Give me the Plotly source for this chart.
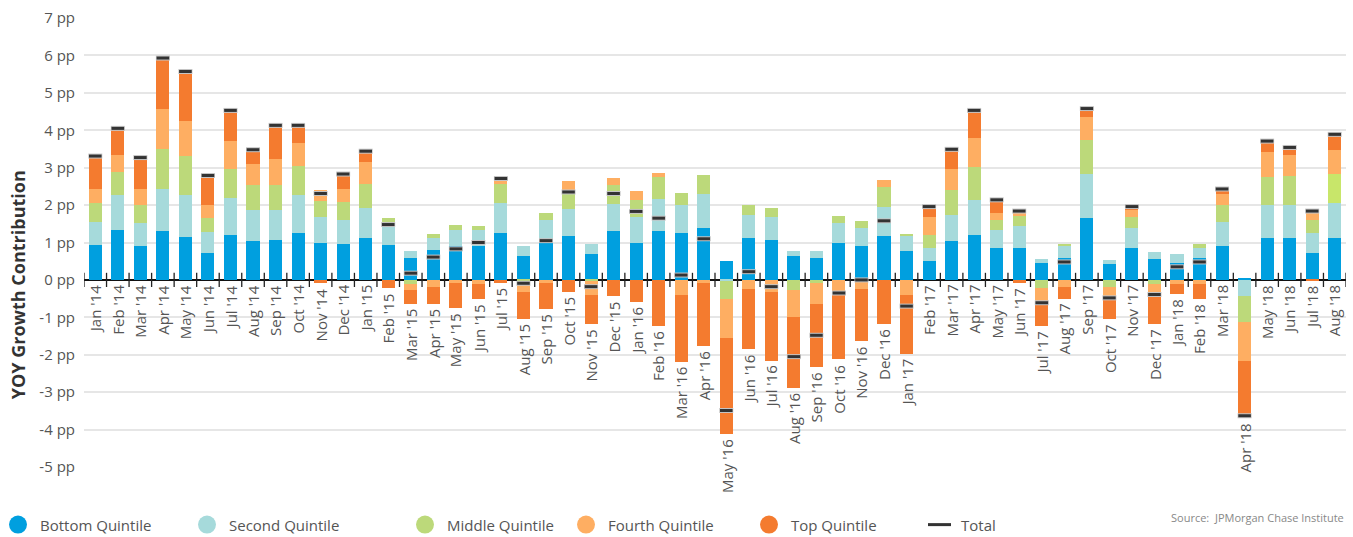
import plotly.graph_objects as go

months = ["Jan '14","Feb '14","Mar '14","Apr '14","May '14","Jun '14","Jul '14","Aug '14","Sep '14","Oct '14","Nov '14","Dec '14",
          "Jan '15","Feb '15","Mar '15","Apr '15","May '15","Jun '15","Jul '15","Aug '15","Sep '15","Oct '15","Nov '15","Dec '15",
          "Jan '16","Feb '16","Mar '16","Apr '16","May '16","Jun '16","Jul '16","Aug '16","Sep '16","Oct '16","Nov '16","Dec '16",
          "Jan '17","Feb '17","Mar '17","Apr '17","May '17","Jun '17","Jul '17","Aug '17","Sep '17","Oct '17","Nov '17","Dec '17",
          "Jan '18","Feb '18","Mar '18","Apr '18","May '18","Jun '18","Jul '18","Aug '18"]

bottom = [0.92,1.34,0.91,1.31,1.15,0.73,1.20,1.04,1.07,1.26,0.99,0.96,
          1.12,0.94,0.59,0.81,0.91,0.91,1.26,0.65,1.03,1.18,0.70,1.31,
          0.99,1.31,1.26,1.39,0.51,1.12,1.07,0.65,0.59,0.99,0.91,1.18,
          0.78,0.51,1.04,1.20,0.86,0.86,0.46,0.59,1.65,0.43,0.86,0.57,
          0.46,0.59,0.91,0.03,1.12,1.12,0.73,1.12]
second = [0.63,0.93,0.62,1.12,1.12,0.54,0.99,0.83,0.80,1.01,0.69,0.64,
          0.80,0.49,0.19,0.31,0.43,0.43,0.79,0.26,0.57,0.71,0.26,0.72,
          0.69,0.85,0.75,0.90,-0.04,0.62,0.62,0.13,0.19,0.54,0.48,0.78,
          0.40,0.35,0.70,0.93,0.48,0.58,0.11,0.32,1.17,0.11,0.53,0.18,
          0.24,0.27,0.64,-0.44,0.89,0.89,0.53,0.93]
middle = [0.50,0.61,0.48,1.07,1.03,0.38,0.77,0.67,0.67,0.77,0.44,0.48,
          0.64,0.22,-0.10,0.11,0.13,0.10,0.51,-0.04,0.19,0.46,-0.04,0.51,
          0.45,0.59,0.31,0.51,-0.48,0.26,0.23,-0.26,-0.07,0.18,0.19,0.53,
          0.05,0.33,0.66,0.88,0.26,0.27,-0.22,0.03,0.91,-0.20,0.29,-0.10,
          0.00,0.10,0.46,-0.68,0.74,0.76,0.34,0.77]
fourth = [0.37,0.47,0.41,1.08,0.96,0.35,0.74,0.55,0.69,0.61,0.27,0.34,
          0.59,0.00,-0.16,-0.20,-0.09,-0.12,0.10,-0.29,-0.07,0.29,-0.35,0.18,
          0.24,0.10,-0.39,-0.09,-1.04,-0.23,-0.31,-0.74,-0.58,-0.31,-0.23,0.17,
          -0.39,0.49,0.56,0.77,0.19,0.10,-0.39,-0.18,0.63,-0.24,0.19,-0.36,
          -0.12,-0.12,0.29,-1.05,0.66,0.58,0.22,0.64]
top = [0.86,0.68,0.81,1.32,1.28,0.75,0.80,0.36,0.87,0.45,-0.09,0.39,
       0.26,-0.22,-0.39,-0.45,-0.67,-0.40,-0.08,-0.72,-0.72,-0.31,-0.80,-0.44,
       -0.58,-1.24,-1.80,-1.68,-2.55,-1.62,-1.85,-1.88,-1.68,-1.81,-1.41,-1.19,
       -1.59,0.24,0.50,0.72,0.32,-0.09,-0.63,-0.32,0.19,-0.61,0.06,-0.72,
       -0.26,-0.40,0.10,-1.53,0.26,0.14,-0.04,0.40]
total = [3.31,4.05,3.27,5.93,5.57,2.79,4.53,3.48,4.13,4.13,2.31,2.83,
         3.44,1.48,0.18,0.61,0.83,1.00,2.71,-0.09,1.05,2.35,-0.18,2.31,
         1.83,1.65,0.13,1.10,-3.49,0.22,-0.18,-2.05,-1.48,-0.35,0.00,1.58,
         -0.70,1.96,3.49,4.53,2.14,1.84,-0.61,0.48,4.58,-0.48,1.96,-0.39,
         0.35,0.48,2.43,-3.63,3.71,3.54,1.84,3.89]

series = [("Bottom Quintile", bottom, "#009fdf"),
          ("Second Quintile", second, "#a6dadb"),
          ("Middle Quintile", middle, "#bcd97a"),
          ("Fourth Quintile", fourth, "#feae62"),
          ("Top Quintile", top, "#f47b2f")]

y_ticks = [7, 6, 5, 4, 3, 2, 1, 0, -1, -2, -3, -4, -5]
y_ticktext = [f"{v} pp" for v in y_ticks]

FONT = "Open Sans"
xs = list(range(len(months)))

fig = go.Figure()
for name, vals, col in series:
    colors = [col] * len(vals)
    if name == "Middle Quintile":
        colors[-1] = "#c8e66a"
    fig.add_trace(go.Bar(x=xs, y=vals, name=name, marker=dict(color=colors, line=dict(width=0)),
                         width=0.58, showlegend=False))

# total markers (halo + dark)
fig.add_trace(go.Scatter(x=xs, y=total, mode="markers", showlegend=False, hoverinfo="skip",
                         marker=dict(symbol="line-ew", size=10, line=dict(width=5, color="#c4c4c4"))))
fig.add_trace(go.Scatter(x=xs, y=total, mode="markers", name="Total", showlegend=False,
                         marker=dict(symbol="line-ew", size=9, line=dict(width=3, color="#333333"))))

shapes = []
# tick marks on the zero line between categories
for i in range(len(months) + 1):
    shapes.append(dict(type="line", xref="x", yref="y", x0=i - 0.5, x1=i - 0.5, y0=-0.19, y1=0.19,
                       line=dict(color="#222222", width=1.3)))

annotations = []
# month labels below each bar
for i, m in enumerate(months):
    neg = sum(v for v in (bottom[i], second[i], middle[i], fourth[i], top[i]) if v < 0)
    low = min(neg, total[i], 0)
    annotations.append(dict(x=i, y=low, xref="x", yref="y", text=m, textangle=-90, showarrow=False,
                            xanchor="center", yanchor="top", yshift=-3,
                            font=dict(family=FONT, size=15, color="#555555")))

# plot geometry in pixels
L, R, T, B = 84, 1346, 15, 467
W, H = R - L, B - T
def px(xp):
    return (xp - L) / W
def py(yp):
    return (B - yp) / H

# y-axis title
annotations.append(dict(x=px(18), y=py(284), xref="paper", yref="paper", text="<b>YOY Growth Contribution</b>",
                        textangle=-90, showarrow=False, xanchor="center", yanchor="middle",
                        font=dict(family=FONT, size=18, color="#333333")))

# custom legend
legend_items = [("Bottom Quintile", "#009fdf", 18, 38),
                ("Second Quintile", "#a6dadb", 207, 227),
                ("Middle Quintile", "#bcd97a", 425, 445),
                ("Fourth Quintile", "#feae62", 586, 606),
                ("Top Quintile", "#f47b2f", 769, 789)]
ly = 525
for name, col, cx, tx in legend_items:
    shapes.append(dict(type="circle", xref="paper", yref="paper", xsizemode="pixel", ysizemode="pixel",
                       xanchor=px(cx), yanchor=py(ly), x0=-9, x1=9, y0=-9, y1=9,
                       fillcolor=col, line=dict(width=0)))
    annotations.append(dict(x=px(tx), y=py(ly), xref="paper", yref="paper", text=name, showarrow=False,
                            xanchor="left", yanchor="middle", font=dict(family=FONT, size=15, color="#555555")))
shapes.append(dict(type="line", xref="paper", yref="paper", x0=px(928), x1=px(951), y0=py(ly), y1=py(ly),
                   line=dict(color="#333333", width=3)))
annotations.append(dict(x=px(959), y=py(ly), xref="paper", yref="paper", text="Total", showarrow=False,
                        xanchor="left", yanchor="middle", font=dict(family=FONT, size=15, color="#555555")))

annotations.append(dict(x=px(1346), y=py(518), xref="paper", yref="paper", text="Source:  JPMorgan Chase Institute",
                        showarrow=False, xanchor="right", yanchor="middle",
                        font=dict(family=FONT, size=11, color="#888888")))

fig.update_layout(
    barmode="relative",
    bargap=0,
    width=1353, height=537,
    margin=dict(l=L, r=1353 - R, t=T, b=537 - B),
    plot_bgcolor="white", paper_bgcolor="white",
    xaxis=dict(range=[-0.5, len(months) - 0.5], showticklabels=False, showgrid=False, zeroline=False,
               showline=False, ticks=""),
    yaxis=dict(range=[-5, 7], tickvals=y_ticks, ticktext=y_ticktext, showgrid=True, gridcolor="#e6e6e6",
               gridwidth=1.5, zeroline=True, zerolinecolor="#111111", zerolinewidth=1.5,
               tickfont=dict(family=FONT, size=15, color="#555555"), ticks="", ticklabelstandoff=8),
    shapes=shapes,
    annotations=annotations,
    showlegend=False,
)

fig.write_html("out.html", config={"displayModeBar": False},
               post_script="document.body.style.margin='0';document.body.style.overflow='hidden';")
